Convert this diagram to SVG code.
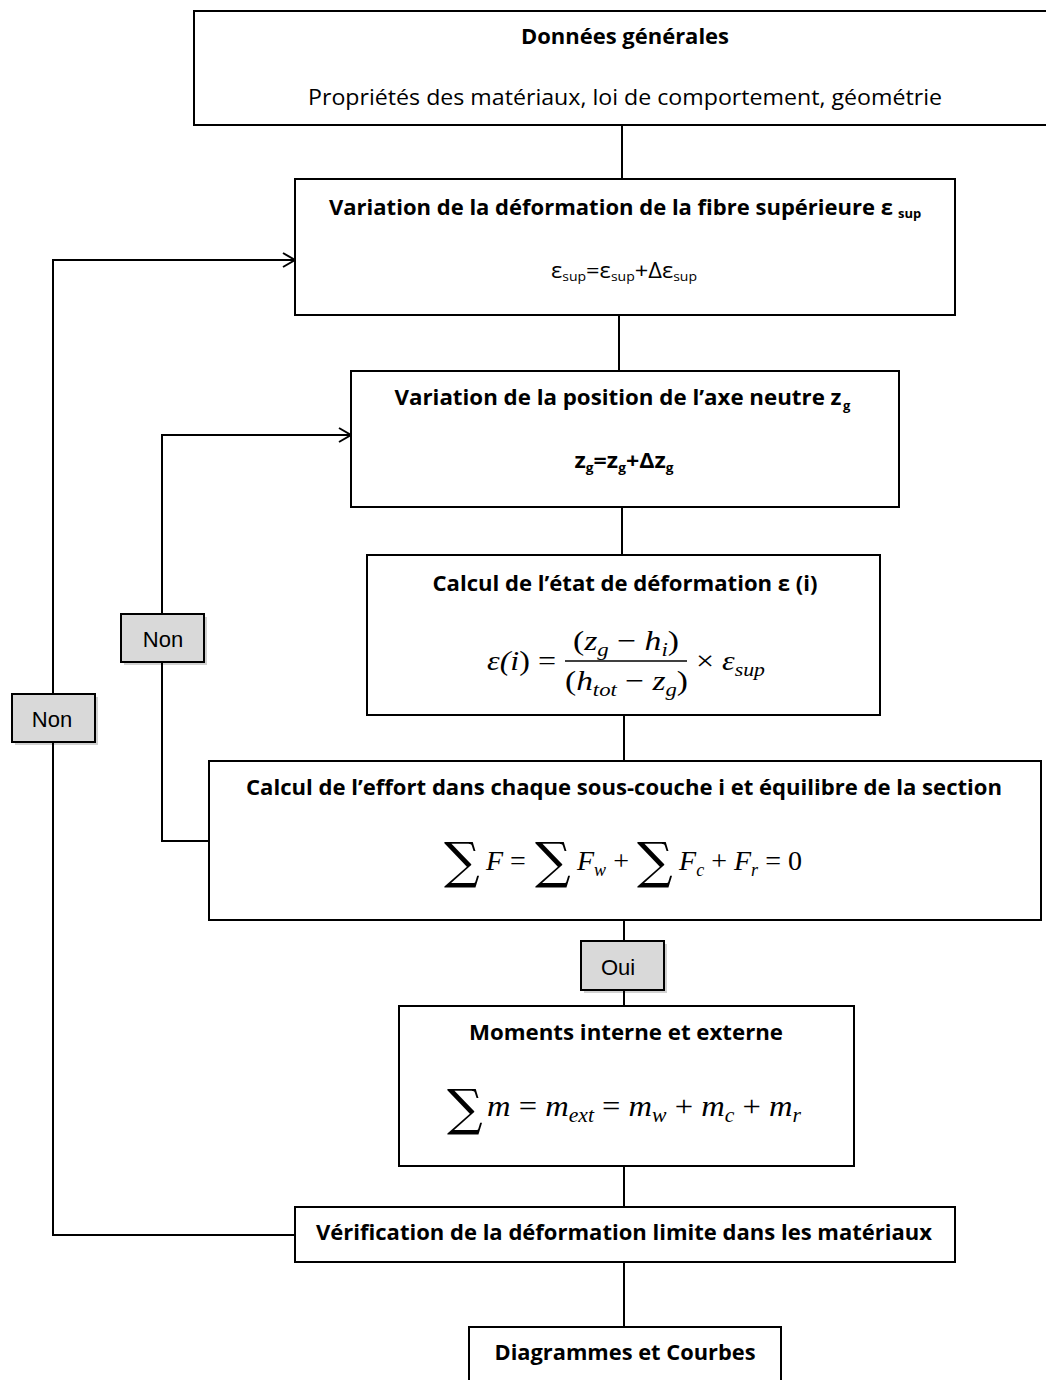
<svg xmlns="http://www.w3.org/2000/svg" width="1046" height="1380" viewBox="0 0 1046 1380">
<style>
.box{fill:#fff;stroke:#000;stroke-width:2}
.lbl{fill:#d9d9d9;stroke:#000;stroke-width:2}
.sh{fill:#000;opacity:0.18}
.ln{fill:none;stroke:#000;stroke-width:2}
.t{font-family:"Open Sans","Liberation Sans",sans-serif;font-weight:bold;font-size:22px;fill:#000;text-anchor:middle}
.r{font-family:"Open Sans","Liberation Sans",sans-serif;font-size:22px;fill:#000;text-anchor:middle}
.l{font-family:"Liberation Sans",Arial,sans-serif;font-size:22px;fill:#000;text-anchor:middle}
.m{font-family:"Liberation Serif","DejaVu Serif",serif;font-style:italic;font-size:28px;fill:#000}
.mn{font-family:"Liberation Serif","DejaVu Serif",serif;font-size:28px;fill:#000}
.sg{font-family:"DejaVu Serif","Liberation Serif",serif;font-size:50px;fill:#000}
</style>
<defs>
<marker id="ar" markerWidth="16" markerHeight="16" refX="14" refY="8" orient="auto" markerUnits="userSpaceOnUse">
<path d="M2,1 L14,8 L2,15" fill="none" stroke="#000" stroke-width="2"/>
</marker>
</defs>

<g id="connectors">
<line class="ln" x1="622" y1="125" x2="622" y2="179"/>
<line class="ln" x1="619" y1="315" x2="619" y2="371"/>
<line class="ln" x1="622" y1="507" x2="622" y2="555"/>
<line class="ln" x1="624" y1="715" x2="624" y2="761"/>
<line class="ln" x1="624" y1="920" x2="624" y2="1006"/>
<line class="ln" x1="624" y1="1166" x2="624" y2="1207"/>
<line class="ln" x1="624" y1="1262" x2="624" y2="1327"/>
<polyline class="ln" points="295,1235 53,1235 53,260 295,260" marker-end="url(#ar)"/>
<polyline class="ln" points="209,841 162,841 162,435 351,435" marker-end="url(#ar)"/>
</g>

<g id="n1">
<rect class="box" x="194" y="11" width="870" height="114"/>
<text class="t" x="625" y="44" textLength="208" lengthAdjust="spacingAndGlyphs">Données générales</text>
<text class="r" x="625" y="105" textLength="634" lengthAdjust="spacingAndGlyphs">Propriétés des matériaux, loi de comportement, géométrie</text>
</g>

<g id="n2">
<rect class="box" x="295" y="179" width="660" height="136"/>
<text class="t" x="611" y="215" textLength="564" lengthAdjust="spacingAndGlyphs">Variation de la déformation de la fibre supérieure ε</text>
<text class="t" x="898" y="218" style="font-size:13px;text-anchor:start">sup</text>
<text class="r" x="624" y="278" textLength="146" lengthAdjust="spacingAndGlyphs"><tspan>ε</tspan><tspan font-size="13" dy="3">sup</tspan><tspan dy="-3">=ε</tspan><tspan font-size="13" dy="3">sup</tspan><tspan dy="-3">+Δε</tspan><tspan font-size="13" dy="3">sup</tspan></text>
</g>

<g id="n3">
<rect class="box" x="351" y="371" width="548" height="136"/>
<text class="t" x="618" y="405" textLength="447" lengthAdjust="spacingAndGlyphs">Variation de la position de l’axe neutre z</text>
<text class="t" x="843" y="410" style="font-size:13px;text-anchor:start">g</text>
<text class="t" x="624" y="468" textLength="99" lengthAdjust="spacingAndGlyphs"><tspan>z</tspan><tspan font-size="13" dy="4">g</tspan><tspan dy="-4">=z</tspan><tspan font-size="13" dy="4">g</tspan><tspan dy="-4">+Δz</tspan><tspan font-size="13" dy="4">g</tspan></text>
</g>

<g id="n4">
<rect class="box" x="367" y="555" width="513" height="160"/>
<text class="t" x="625" y="591" textLength="385" lengthAdjust="spacingAndGlyphs">Calcul  de l’état de déformation ε (i)</text>
<text class="m" x="487" y="670" textLength="69" lengthAdjust="spacingAndGlyphs">ε(<tspan>i</tspan><tspan font-style="normal">) =</tspan></text>
<line x1="565" y1="661" x2="687" y2="661" stroke="#000" stroke-width="1.5"/>
<text class="m" x="573" y="650" textLength="106" lengthAdjust="spacingAndGlyphs"><tspan font-style="normal">(</tspan>z<tspan font-size="19" dy="6">g</tspan><tspan dy="-6" font-style="normal"> − </tspan>h<tspan font-size="19" dy="6">i</tspan><tspan dy="-6" font-style="normal">)</tspan></text>
<text class="m" x="565" y="690" textLength="123" lengthAdjust="spacingAndGlyphs"><tspan font-style="normal">(</tspan>h<tspan font-size="19" dy="6">tot</tspan><tspan dy="-6" font-style="normal"> − </tspan>z<tspan font-size="19" dy="6">g</tspan><tspan dy="-6" font-style="normal">)</tspan></text>
<text class="m" x="696" y="670" textLength="69" lengthAdjust="spacingAndGlyphs"><tspan font-style="normal">× </tspan>ε<tspan font-size="19" dy="6">sup</tspan></text>
</g>

<g id="n5">
<rect class="box" x="209" y="761" width="832" height="159"/>
<text class="t" x="624" y="795" textLength="756" lengthAdjust="spacingAndGlyphs">Calcul  de l’effort dans chaque sous-couche  i et équilibre  de la section</text>
<text class="sg" x="444" y="878">∑</text>
<text class="m" x="486" y="870">F<tspan font-style="normal"> = </tspan></text>
<text class="sg" x="535" y="878">∑</text>
<text class="m" x="577" y="870">F<tspan font-size="18" dy="6">w</tspan><tspan dy="-6" font-style="normal"> + </tspan></text>
<text class="sg" x="637" y="878">∑</text>
<text class="m" x="679" y="870" textLength="123" lengthAdjust="spacingAndGlyphs">F<tspan font-size="18" dy="6">c</tspan><tspan dy="-6" font-style="normal"> + </tspan>F<tspan font-size="18" dy="6">r</tspan><tspan dy="-6" font-style="normal"> = 0</tspan></text>
</g>

<g id="oui">
<rect class="sh" x="584" y="944" width="83" height="49"/>
<rect class="lbl" x="581" y="941" width="83" height="49"/>
<text class="l" x="618" y="975">Oui</text>
</g>

<g id="non1">
<rect class="sh" x="124" y="617" width="83" height="48"/>
<rect class="lbl" x="121" y="614" width="83" height="48"/>
<text class="l" x="163" y="647">Non</text>
</g>

<g id="non2">
<rect class="sh" x="15" y="697" width="83" height="48"/>
<rect class="lbl" x="12" y="694" width="83" height="48"/>
<text class="l" x="52" y="727">Non</text>
</g>

<g id="n6">
<rect class="box" x="399" y="1006" width="455" height="160"/>
<text class="t" x="626" y="1040" textLength="314" lengthAdjust="spacingAndGlyphs">Moments interne et externe</text>
<text class="sg" x="447" y="1125">∑</text>
<text class="m" x="487" y="1116" style="font-size:30px" textLength="314" lengthAdjust="spacingAndGlyphs">m<tspan font-style="normal"> = </tspan>m<tspan font-size="20" dy="6">ext</tspan><tspan dy="-6" font-style="normal"> = </tspan>m<tspan font-size="20" dy="6">w</tspan><tspan dy="-6" font-style="normal"> + </tspan>m<tspan font-size="20" dy="6">c</tspan><tspan dy="-6" font-style="normal"> + </tspan>m<tspan font-size="20" dy="6">r</tspan></text>
</g>

<g id="n7">
<rect class="box" x="295" y="1207" width="660" height="55"/>
<text class="t" x="624" y="1240" textLength="616" lengthAdjust="spacingAndGlyphs">Vérification de la déformation limite  dans les matériaux</text>
</g>

<g id="n8">
<rect class="box" x="469" y="1327" width="312" height="70"/>
<text class="t" x="625" y="1360" textLength="261" lengthAdjust="spacingAndGlyphs">Diagrammes et Courbes</text>
</g>
</svg>
